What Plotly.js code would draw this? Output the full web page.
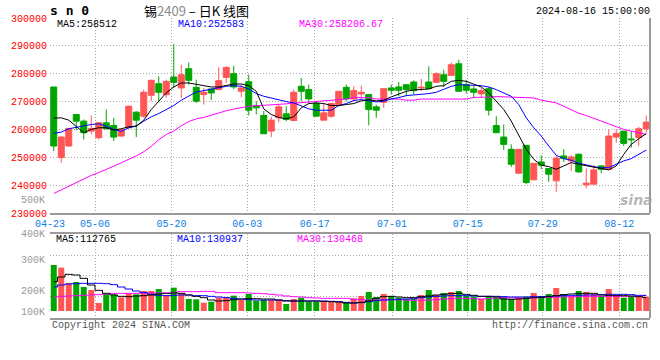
<!DOCTYPE html>
<html><head><meta charset="utf-8">
<script src="https://cdn.plot.ly/plotly-3.0.1.min.js"></script>
<style>html,body{margin:0;padding:0;background:#fff;}#chart{width:660px;height:360px;}</style>
</head><body><div id="chart"></div>
<script>
// ---- categories: trading days 2024-04-23 .. 2024-08-16 ----
const dates = [
 '04-23','04-24','04-25','04-26','04-29','04-30',
 '05-06','05-07','05-08','05-09','05-10','05-13','05-14','05-15','05-16','05-17',
 '05-20','05-21','05-22','05-23','05-24','05-27','05-28','05-29','05-30','05-31',
 '06-03','06-04','06-05','06-06','06-07','06-11','06-12','06-13','06-14',
 '06-17','06-18','06-19','06-20','06-21','06-24','06-25','06-26','06-27','06-28',
 '07-01','07-02','07-03','07-04','07-05','07-08','07-09','07-10','07-11','07-12',
 '07-15','07-16','07-17','07-18','07-19','07-22','07-23','07-24','07-25','07-26',
 '07-29','07-30','07-31','08-01','08-02','08-05','08-06','08-07','08-08','08-09',
 '08-12','08-13','08-14','08-15','08-16'];

// ---- daily OHLC ----
const open  = [275240,249880,254050,265360,262980,259400,257020,262380,261430,257620,
 260600,266190,264760,272260,276430,272500,278810,274880,281790,275120,
 272500,274520,274290,278690,280000,273690,277140,268570,265000,259400,
 264170,265600,263210,275480,274290,269290,263330,264760,268930,275120,
 270950,272740,272500,268100,269760,274880,275240,276070,277020,274880,
 277020,276900,279640,279400,283570,276070,274520,272740,274640,261430,
 257260,252860,244290,254290,241900,248330,245950,241550,250480,248690,
 251070,240120,240360,246900,245710,257260,259400,256550,257020,260240];
const high  = [275240,257500,260500,265360,263570,265000,262620,267140,264170,260200,
 268570,266550,274290,277860,279050,277860,290710,283210,284050,277860,
 274880,274520,282260,282620,282860,276070,279640,270120,266550,264520,
 268930,268330,274290,278450,276070,270120,269290,269290,273690,276070,
 275480,275710,272500,268930,274640,276070,277020,276070,277620,278100,
 282620,280480,281430,284050,285000,277860,275480,274880,275240,264760,
 261790,254640,252860,254290,247860,250710,245950,250480,252860,250710,
 251430,245950,247140,247140,260000,260000,259400,259400,260950,265000];
const low   = [252260,248100,253800,259640,256430,258210,256430,260000,255830,257400,
 260360,257260,264170,270120,269760,271310,274880,271310,276070,269520,
 268930,270480,274290,276670,274520,271550,265000,265360,258450,257260,
 262620,262980,262980,270120,269520,264520,263330,264170,268330,270120,
 270120,270710,261430,264170,267740,272500,271900,271900,272500,273690,
 274520,276670,275240,279400,273690,272860,271310,271310,265000,258810,
 252620,246550,243930,240360,241900,245710,241190,237620,248330,245120,
 244520,238810,240360,244290,245710,255240,254050,253450,254050,258810];
const close = [254050,257260,260360,262980,258810,260360,262380,260240,257260,260000,
 268330,263330,273330,277620,273330,277260,276900,279640,277620,270120,
 273330,273100,277500,282260,275240,274880,266900,267740,258450,263330,
 268100,263570,273330,273690,270950,264760,265950,269290,273690,270950,
 273930,273330,267140,266900,274640,274050,274050,274290,273930,275120,
 274640,280000,277260,283210,273690,274050,273330,273930,266900,258810,
 254640,247500,252860,240950,247860,247140,243930,249640,249520,250120,
 244760,240710,245480,245710,257620,258570,255000,256310,260240,262620];

// ---- price moving averages ----
const ma5 = [264050,264170,263330,261190,258810,260000,260600,260600,259760,260240,
 260950,261190,263330,267140,270120,273100,275240,276670,276670,276190,
 275710,275240,275240,275710,276310,276310,275710,273690,267380,265360,
 264290,263810,264520,267740,269290,269520,269290,268570,268570,268930,
 269290,270240,270710,270240,270480,271670,272620,273690,274170,274290,
 274520,275480,275710,277260,277620,277260,276310,275240,273100,270120,
 267140,262980,257620,252860,249290,247140,246670,245710,246900,248100,
 247500,246900,246550,245950,245480,246900,251070,254640,256670,258512];
const ma10 = [258570,259050,260240,260830,261190,261790,262020,261190,260000,259290,
 260600,261190,262980,264520,265710,267140,268570,270480,271900,273450,
 273930,274520,275000,275480,275710,275480,274520,272860,271900,271190,
 270710,270000,269520,268570,267380,266900,266790,266900,268570,269290,
 270360,270710,270240,269880,270120,270950,271430,272140,272380,272500,
 272860,273330,274290,275480,276070,276070,275830,275710,275240,274290,
 273100,271900,268930,264170,260600,257620,254050,250710,249520,248930,
 247860,247140,246670,246190,246310,247500,248690,249520,251070,252583];
const ma30 = [237000,238300,239600,240900,242200,243500,244500,245600,246700,248000,
 249300,250500,252000,253900,256300,258200,259400,261300,262800,263800,
 264300,265100,266000,266700,267300,267900,268300,268500,268600,268800,
 269000,269200,269400,269500,269700,269900,270300,270500,270700,270900,
 271400,271400,271400,270900,270900,270900,270900,270500,270500,270900,
 270900,270900,270900,270900,270900,270900,271500,271500,271600,271800,
 271700,271600,271500,271400,271300,270500,270000,269500,268300,267000,
 265800,265000,264000,263100,262200,261200,260000,259400,258900,258207];

// ---- volume and its moving averages ----
const volume = [386400,364000,235200,243600,201600,176400,67200,142800,140000,114800,
 148400,140000,168000,168000,184800,134400,196000,148400,100800,98000,
 70000,78400,112000,117600,128800,92400,142800,86800,92400,92400,
 92400,58800,100800,112000,78400,78400,78400,78400,78400,72800,
 106400,126000,159600,117600,142800,126000,112000,100800,100800,134400,
 176400,134400,151200,159600,168000,128800,120400,100800,120400,112000,
 120400,100800,112000,120400,151200,126000,142800,193200,142800,126000,
 168000,159600,142800,126000,184800,134400,112000,126000,126000,120400];
const volMa5 = [246400,285600,308000,302400,274400,218400,173600,148400,134400,123200,
 120400,126000,128800,134400,142800,148400,151200,148400,134400,123200,
 112000,92400,84000,86800,95200,100800,103600,103600,100800,100800,
 92400,84000,84000,84000,84000,84000,81200,78400,75600,67200,
 67200,72800,84000,106400,120400,123200,117600,112000,112000,120400,
 126000,134400,140000,145600,148400,140000,131600,123200,123200,117600,
 100800,98000,100800,106400,112000,114800,120400,128800,137200,142800,
 145600,148400,148400,134400,131600,128800,128800,126000,120400,112765];
const volMa10 = [201600,218400,226800,229600,232400,232400,232400,229600,221200,201600,
 184800,168000,154000,140000,131600,128800,131600,134400,134400,128800,
 128800,123200,117600,112000,106400,100800,95200,92400,92400,92400,
 92400,86800,84000,84000,84000,84000,84000,81200,78400,72800,
 67200,70000,78400,86800,92400,95200,98000,100800,103600,112000,
 117600,123200,126000,128800,128800,128800,126000,123200,123200,123200,
 120400,117600,117600,117600,120400,120400,123200,126000,128800,131600,
 131600,134400,134400,137200,140000,140000,140000,137200,131600,130937];
const volMa30 = [117600,123200,126000,128800,131600,134400,137200,142800,148400,148400,
 148400,148400,151200,151200,151200,151200,154000,162400,162400,162400,
 165200,165200,154000,154000,154000,154000,151200,148400,145600,140000,
 134400,126000,120400,117600,112000,109200,106400,106400,106400,106400,
 98000,95200,92400,92400,92400,95200,95200,92400,89600,89600,
 92400,95200,100800,103600,106400,106400,103600,100800,103600,109200,
 112000,109200,109200,106400,109200,112000,114800,117600,117600,120400,
 120400,123200,123200,123200,123200,123200,123200,123200,123200,130468];

// ---- tick labels ----
const dateTickLabels = ['04-23','05-06','05-20','06-03','06-17','07-01','07-15','07-29','08-12'];
const dateTickShift  = [-0.5,-0.5,-0.3,-0.2,-0.2,0.1,0.2,0.2,0.4];
const priceTicks = [230000,240000,250000,260000,270000,280000,290000,300000];
const volTickLabels = ['500K','400K','300K','200K','100K'];
const volGridVals = [126000,298200,470400];

const RED = '#ff5555', GREEN = '#00a600';
const MONO = 'Liberation Mono, DejaVu Sans Mono, monospace';
const GRIDC = '#a8a8a8', LINEC = '#9a9a9a';

const xIdx = dates.map((d, i) => i);
const tickVals = dateTickLabels.map((d, k) => dates.indexOf(d) + dateTickShift[k]);
const volColors = close.map((c, i) => c >= open[i] ? RED : GREEN);

// pixel -> paper helpers (plot area 50..650 x 18..318)
const PX = p => (p - 50) / 600;
const PY = p => (318 - p) / 300;

const traces = [
  {type:'candlestick', x:xIdx, open:open, high:high, low:low, close:close,
   xaxis:'x', yaxis:'y', whiskerwidth:0, hoverinfo:'none',
   increasing:{line:{color:RED, width:1}, fillcolor:RED},
   decreasing:{line:{color:GREEN, width:1}, fillcolor:GREEN}},
  {type:'scatter', mode:'lines', x:xIdx, y:ma30, xaxis:'x', yaxis:'y', line:{color:'#ff00ff', width:1}, hoverinfo:'none'},
  {type:'scatter', mode:'lines', x:xIdx, y:ma10, xaxis:'x', yaxis:'y', line:{color:'#0000ff', width:1}, hoverinfo:'none'},
  {type:'scatter', mode:'lines', x:xIdx, y:ma5, xaxis:'x', yaxis:'y', line:{color:'#000000', width:1}, hoverinfo:'none'},
  {type:'bar', x:xIdx, y:volume, xaxis:'x2', yaxis:'y2', marker:{color:volColors, line:{width:0}}, hoverinfo:'none'},
  {type:'scatter', mode:'lines', x:xIdx, y:volMa30, xaxis:'x2', yaxis:'y2', line:{color:'#ff00ff', width:1, shape:'hvh'}, hoverinfo:'none'},
  {type:'scatter', mode:'lines', x:xIdx, y:volMa10, xaxis:'x2', yaxis:'y2', line:{color:'#0000ff', width:1, shape:'hvh'}, hoverinfo:'none'},
  {type:'scatter', mode:'lines', x:xIdx, y:volMa5, xaxis:'x2', yaxis:'y2', line:{color:'#000000', width:1, shape:'hvh'}, hoverinfo:'none'}
];

function ann(text, px, py, xa, color, size, family, extra) {
  return Object.assign({text:text, x:PX(px), y:PY(py), xref:'paper', yref:'paper',
    xanchor:xa, yanchor:'middle', showarrow:false,
    font:{family:family || MONO, size:size || 10, color:color || '#000'}}, extra || {});
}

const volLabelY = [200.7, 234.5, 260, 291, 312];
const annotations = [
  ann('<b>s n 0</b>', 48, 11, 'left', '#000', 13, 'DejaVu Sans Mono'),
  ann('锡<span style="color:#8a8a8a">2409\u00a0</span>–\u00a0日K\u00a0线图', 142, 10, 'left', '#000', 13, 'Noto Sans CJK SC'),
  ann('2024-08-16 15:00:00', 652, 12, 'right', '#000', 10),
  ann('MA5:258512', 55, 24, 'left', '#000', 10),
  ann('MA10:252583', 176, 24, 'left', '#0000ff', 10),
  ann('MA30:258206.67', 297, 24, 'left', '#ff00ff', 10),
  ann('MA5:112765', 54, 239, 'left', '#000', 10),
  ann('MA10:130937', 175, 239, 'left', '#0000ff', 10),
  ann('MA30:130468', 295, 239, 'left', '#ff00ff', 10),
  ann('Copyright 2024 SINA.COM', 50, 325, 'left', '#555', 10),
  ann('http://finance.sina.com.cn', 650, 325, 'right', '#555', 10),
  ann('<b><i>sina</i></b>', 636, 200, 'center', 'rgba(160,160,160,0.75)', 14, 'DejaVu Sans')
].concat(volTickLabels.map((t, k) => ann(t, 46, volLabelY[k], 'right', '#999', 10, MONO, {borderpad:0})));

const layout = {
  width:660, height:360, margin:{l:50, r:10, t:18, b:42},
  paper_bgcolor:'#fff', plot_bgcolor:'#fff', showlegend:false,
  boxgap:0.2, boxgroupgap:0, bargap:0.2,
  xaxis:{domain:[0,1], anchor:'y', range:[-0.5,79.5], tickmode:'array', tickvals:tickVals, ticktext:dateTickLabels,
    tickfont:{family:MONO, size:10, color:'#0a7ee6'}, ticks:'', showgrid:true, gridcolor:GRIDC, griddash:'1px,2px', gridwidth:1,
    zeroline:false, showline:true, linecolor:LINEC, linewidth:2, rangeslider:{visible:false}, fixedrange:true},
  xaxis2:{domain:[0,1], anchor:'y2', matches:'x', range:[-0.5,79.5], tickmode:'array', tickvals:tickVals, showticklabels:false,
    ticks:'', showgrid:true, gridcolor:GRIDC, griddash:'1px,2px', gridwidth:1, zeroline:false,
    showline:true, mirror:true, linecolor:LINEC, linewidth:2, fixedrange:true},
  yaxis:{domain:[0.35,1], anchor:'x', range:[230000,300000], tickmode:'array', tickvals:priceTicks, ticktext:priceTicks.map(String),
    tickfont:{family:MONO, size:10, color:'#ff0000'}, ticks:'', ticklabelstandoff:2, showgrid:true, gridcolor:GRIDC, griddash:'1px,2px', gridwidth:1,
    zeroline:false, showline:false, fixedrange:true},
  yaxis2:{domain:[0,0.28], anchor:'x2', range:[-58800,646800], tickmode:'array', tickvals:volGridVals, showticklabels:false,
    ticks:'', showgrid:true, gridcolor:GRIDC, griddash:'1px,2px', gridwidth:1, zeroline:false, showline:false, fixedrange:true},
  shapes:[
    {type:'line', xref:'paper', yref:'paper', x0:1, x1:1, y0:0.35, y1:1, line:{color:LINEC, width:2}},
    {type:'line', xref:'paper', yref:'paper', x0:1, x1:1, y0:0, y1:0.28, line:{color:LINEC, width:2}}
  ],
  annotations:annotations
};

Plotly.newPlot('chart', traces, layout, {staticPlot:true, displayModeBar:false});
</script>
</body></html>
